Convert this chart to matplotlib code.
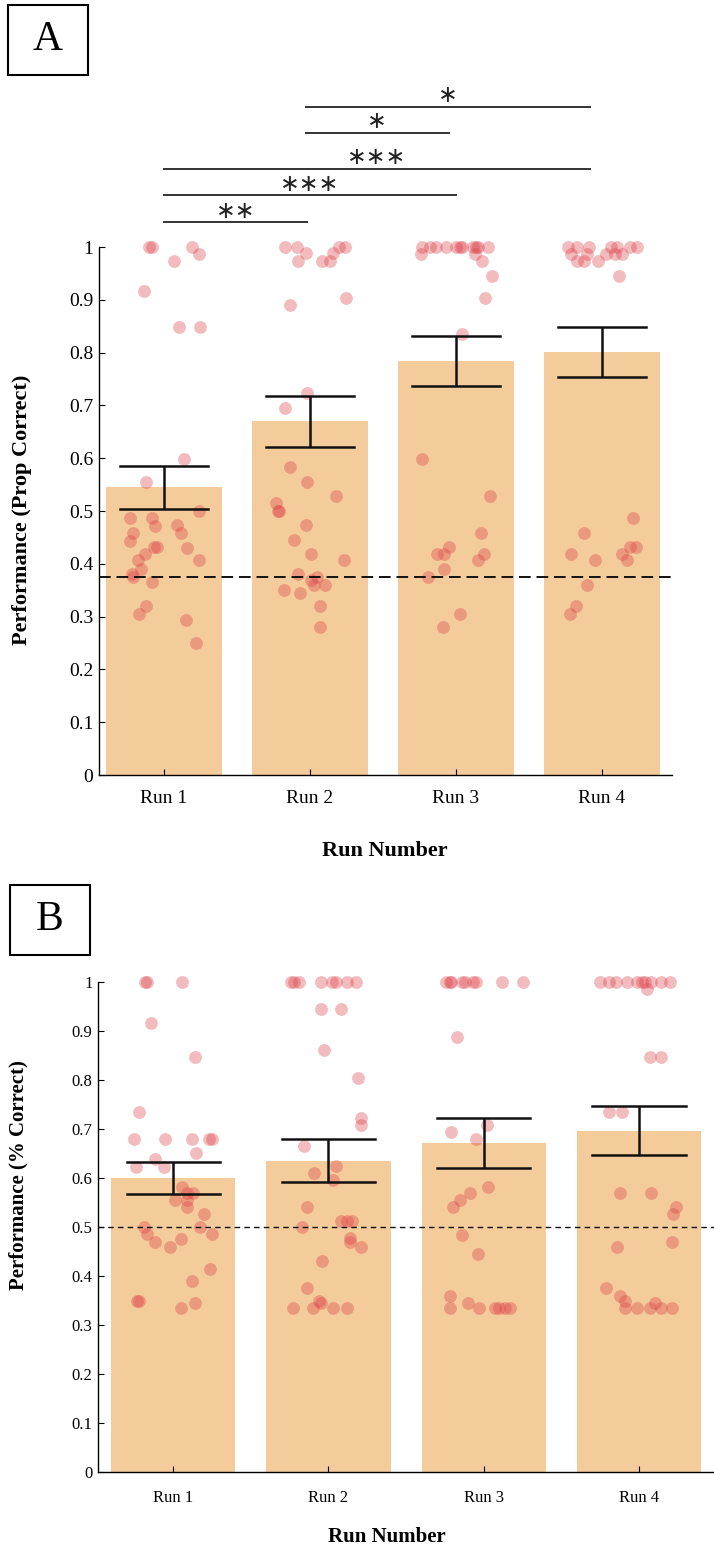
import matplotlib
matplotlib.use("Agg")
import matplotlib.pyplot as plt
from matplotlib.patches import Rectangle

plt.rcParams['font.family'] = ['Liberation Serif', 'DejaVu Serif']

# ---------------- data ----------------
runs = ["Run 1", "Run 2", "Run 3", "Run 4"]
yticks = [0, 0.1, 0.2, 0.3, 0.4, 0.5, 0.6, 0.7, 0.8, 0.9, 1]
ytick_labels = ["0", "0.1", "0.2", "0.3", "0.4", "0.5", "0.6", "0.7", "0.8", "0.9", "1"]

# Panel A: mean proportion correct and standard error per run
a_means = [0.545, 0.670, 0.784, 0.801]
a_sem = [0.041, 0.048, 0.047, 0.048]
a_chance = 0.375

# Panel A: individual participants (value, horizontal jitter)
a_run1_vals = [1.0, 1.0, 1.0, 0.987, 0.973, 0.917, 0.848, 0.848, 0.598, 0.555, 0.5,
               0.487, 0.487, 0.472, 0.473, 0.458, 0.458, 0.443, 0.432, 0.432, 0.43,
               0.419, 0.407, 0.407, 0.39, 0.38, 0.375, 0.365, 0.32, 0.305, 0.293, 0.25]
a_run1_jit = [-0.10, -0.08, 0.19, 0.24, 0.07, -0.14, 0.10, 0.25, 0.14, -0.12, 0.24,
              -0.23, -0.08, -0.06, 0.09, 0.12, -0.21, -0.23, -0.07, -0.05, 0.16,
              -0.13, -0.18, 0.24, -0.16, -0.22, -0.21, -0.08, -0.12, -0.17, 0.15, 0.22]
a_run2_vals = [1.0, 1.0, 1.0, 1.0, 0.988, 0.988, 0.973, 0.973, 0.973, 0.903, 0.89,
               0.723, 0.695, 0.583, 0.555, 0.528, 0.515, 0.5, 0.5, 0.473, 0.445,
               0.419, 0.407, 0.38, 0.375, 0.37, 0.36, 0.36, 0.35, 0.345, 0.32, 0.28]
a_run2_jit = [-0.17, -0.09, 0.20, 0.24, -0.03, 0.16, -0.08, 0.08, 0.14, 0.25, -0.14,
              -0.02, -0.17, -0.14, -0.02, 0.18, -0.23, -0.22, -0.21, -0.03, -0.11,
              0.01, 0.23, -0.08, 0.05, 0.01, 0.03, 0.10, -0.18, -0.07, 0.07, 0.07]
a_run3_vals = [1.0, 1.0, 1.0, 1.0, 1.0, 1.0, 1.0, 1.0, 1.0, 1.0, 1.0,
               0.987, 0.987, 0.973, 0.945, 0.903, 0.835, 0.598, 0.528, 0.458, 0.432,
               0.419, 0.419, 0.419, 0.407, 0.39, 0.375, 0.305, 0.28]
a_run3_jit = [-0.23, -0.18, -0.14, -0.07, 0.0, 0.03, 0.04, 0.12, 0.14, 0.15, 0.22,
              -0.24, 0.13, 0.18, 0.25, 0.20, 0.04, -0.23, 0.23, 0.17, -0.05,
              -0.13, -0.08, 0.19, 0.15, -0.08, -0.19, 0.03, -0.09]
a_run4_vals = [1.0, 1.0, 1.0, 1.0, 1.0, 1.0, 1.0,
               0.987, 0.987, 0.987, 0.987, 0.987, 0.973, 0.973, 0.973, 0.945,
               0.487, 0.458, 0.432, 0.432, 0.419, 0.419, 0.407, 0.407, 0.36, 0.32, 0.305]
a_run4_jit = [-0.23, -0.17, -0.09, 0.06, 0.10, 0.19, 0.24,
              -0.21, -0.10, 0.03, 0.09, 0.14, -0.17, -0.12, -0.03, 0.12,
              0.21, -0.12, 0.19, 0.23, -0.21, 0.14, -0.05, 0.17, -0.10, -0.18, -0.22]

# Pairwise comparisons: (start x, end x, bar height, label)
a_sig_pairs = [(1.0, 1.98, 1.047, "∗∗"), (1.0, 3.0, 1.098, "∗∗∗"),
               (1.0, 3.92, 1.148, "∗∗∗"), (1.97, 2.95, 1.216, "∗"),
               (1.97, 3.92, 1.265, "∗")]

# Panel B: mean percent correct and standard error per run
b_means = [0.600, 0.635, 0.671, 0.696]
b_sem = [0.033, 0.044, 0.051, 0.050]
b_chance = 0.5

b_run1_vals = [1.0, 1.0, 1.0, 0.916, 0.847, 0.735, 0.68, 0.68, 0.68, 0.68, 0.68,
               0.651, 0.639, 0.623, 0.623, 0.582, 0.57, 0.57, 0.555, 0.555, 0.541,
               0.527, 0.5, 0.5, 0.486, 0.486, 0.475, 0.47, 0.46, 0.415, 0.39,
               0.35, 0.35, 0.345, 0.335]
b_run1_jit = [-0.18, -0.17, 0.06, -0.14, 0.14, -0.22, -0.25, -0.05, 0.12, 0.23, 0.25,
              0.15, -0.12, -0.24, -0.06, 0.06, 0.09, 0.13, 0.01, 0.09, 0.09,
              0.20, 0.17, -0.19, -0.17, 0.25, 0.05, -0.12, -0.02, 0.24, 0.12,
              -0.23, -0.22, 0.14, 0.05]
b_run2_vals = [1.0, 1.0, 1.0, 1.0, 1.0, 1.0, 1.0, 1.0, 0.945, 0.945, 0.861, 0.805,
               0.722, 0.708, 0.666, 0.624, 0.611, 0.596, 0.541, 0.513, 0.513, 0.513,
               0.5, 0.477, 0.47, 0.46, 0.43, 0.375, 0.35, 0.345,
               0.335, 0.335, 0.335, 0.335]
b_run2_jit = [-0.24, -0.22, -0.19, -0.05, 0.02, 0.05, 0.12, 0.18, -0.05, 0.08, -0.03, 0.19,
              0.21, 0.21, -0.16, 0.05, -0.09, 0.03, -0.14, 0.08, 0.12, 0.15,
              -0.17, 0.14, 0.14, 0.21, -0.04, -0.14, -0.06, -0.05,
              -0.23, -0.10, 0.03, 0.12]
b_run3_vals = [1.0, 1.0, 1.0, 1.0, 1.0, 1.0, 1.0, 1.0, 1.0, 0.888, 0.708, 0.694,
               0.68, 0.582, 0.569, 0.555, 0.541, 0.484, 0.445, 0.36, 0.345,
               0.335, 0.335, 0.335, 0.335, 0.335, 0.335]
b_run3_jit = [-0.24, -0.22, -0.21, -0.14, -0.12, -0.07, -0.05, 0.12, 0.25, -0.17, 0.02, -0.21,
              -0.05, 0.03, -0.09, -0.15, -0.20, -0.14, -0.04, -0.22, -0.10,
              -0.22, -0.03, 0.07, 0.10, 0.14, 0.17]
b_run4_vals = [1.0, 1.0, 1.0, 1.0, 1.0, 1.0, 1.0, 1.0, 1.0, 1.0, 0.986,
               0.847, 0.847, 0.735, 0.735, 0.569, 0.569, 0.541, 0.527, 0.47, 0.46,
               0.375, 0.36, 0.35, 0.345, 0.335, 0.335, 0.335, 0.335, 0.335]
b_run4_jit = [-0.25, -0.19, -0.15, -0.08, -0.01, 0.02, 0.04, 0.08, 0.14, 0.20, 0.05,
              0.07, 0.14, -0.19, -0.11, -0.12, 0.08, 0.24, 0.22, 0.21, -0.14,
              -0.21, -0.12, -0.09, 0.10, -0.09, -0.01, 0.07, 0.14, 0.21]

# ---------------- style ----------------
BAR_COLOR = "#F4CB9B"
DOT_COLOR = "#DC3C46"
DOT_ALPHA = 0.35
DOT_SIZE = 85

W, H = 714, 1552
fig = plt.figure(figsize=(W / 100, H / 100), dpi=100)


def px_axes(left, top, right, bottom):
    return fig.add_axes([left / W, 1 - bottom / H, (right - left) / W, (bottom - top) / H])


def draw_panel(ax, xlim, means, sem, chance, vals, jits, tick_fs, dash, dash_lw):
    xs = list(range(1, len(runs) + 1))
    ax.bar(xs, means, width=0.8, color=BAR_COLOR, edgecolor="none", zorder=1)
    for x, v_list, j_list in zip(xs, vals, jits):
        ax.scatter([x + j for j in j_list], v_list, s=DOT_SIZE, color=DOT_COLOR,
                   alpha=DOT_ALPHA, linewidths=0, zorder=3, clip_on=False)
    ax.errorbar(xs, means, yerr=sem, fmt="none", ecolor="#111111", elinewidth=1.8,
                capsize=0, zorder=4)
    for x, m, e in zip(xs, means, sem):
        for yy in (m - e, m + e):
            ax.plot([x - 0.3, x + 0.3], [yy, yy], color="#111111", lw=1.8, zorder=4)
    ax.axhline(chance, color="#111111", lw=dash_lw, dashes=dash, zorder=5)
    ax.set_xlim(*xlim)
    ax.set_ylim(0, 1)
    ax.set_xticks(xs)
    ax.set_xticklabels(runs, fontsize=tick_fs)
    ax.set_yticks(yticks)
    ax.set_yticklabels(ytick_labels, fontsize=tick_fs)
    for s in ("top", "right"):
        ax.spines[s].set_visible(False)
    for s in ("left", "bottom"):
        ax.spines[s].set_linewidth(1.0)
    ax.tick_params(direction="in", length=4, width=0.8)
    ax.set_facecolor("none")


# ---------------- panel A ----------------
axA = px_axes(99, 247, 672, 775)
draw_panel(axA, (0.555, 4.48), a_means, a_sem, a_chance,
           [a_run1_vals, a_run2_vals, a_run3_vals, a_run4_vals],
           [a_run1_jit, a_run2_jit, a_run3_jit, a_run4_jit],
           14, (6, 3), 1.4)
axA.tick_params(axis="x", pad=11)
axA.tick_params(axis="y", pad=4)
for x0, x1, h, lab in a_sig_pairs:
    axA.plot([x0, x1], [h, h], color="#333333", lw=1.4, clip_on=False, zorder=6)
    axA.text((x0 + x1) / 2, h + 0.022, lab, ha="center", va="center", fontsize=17,
             family="DejaVu Sans", color="#222222", clip_on=False)
fig.text(22 / W, 1 - 510 / H, "Performance (Prop Correct)", rotation=90, ha="center",
         va="center", fontsize=16, fontweight="bold")
fig.text(385 / W, 1 - 851 / H, "Run Number", ha="center", va="center",
         fontsize=16, fontweight="bold")

# ---------------- panel B ----------------
axB = px_axes(98, 982, 714, 1472)
draw_panel(axB, (0.516, 4.483), b_means, b_sem, b_chance,
           [b_run1_vals, b_run2_vals, b_run3_vals, b_run4_vals],
           [b_run1_jit, b_run2_jit, b_run3_jit, b_run4_jit],
           12, (4, 3), 1.0)
axB.tick_params(axis="x", pad=13)
axB.tick_params(axis="y", pad=4)
fig.text(18 / W, 1 - 1175 / H, "Performance (% Correct)", rotation=90, ha="center",
         va="center", fontsize=15, fontweight="bold")
fig.text(387 / W, 1 - 1537 / H, "Run Number", ha="center", va="center",
         fontsize=15, fontweight="bold")

# ---------------- panel letters ----------------
for (l, t, r, b), letter in [((8, 5, 88, 75), "A"), ((10, 885, 90, 955), "B")]:
    fig.patches.append(Rectangle((l / W, 1 - b / H), (r - l) / W, (b - t) / H,
                                 transform=fig.transFigure, fill=False,
                                 edgecolor="black", lw=1.5))
    fig.text((l + r) / 2 / W, 1 - (t + b) / 2 / H, letter, ha="center", va="center",
             fontsize=30)

fig.savefig("out.png", dpi=100)
